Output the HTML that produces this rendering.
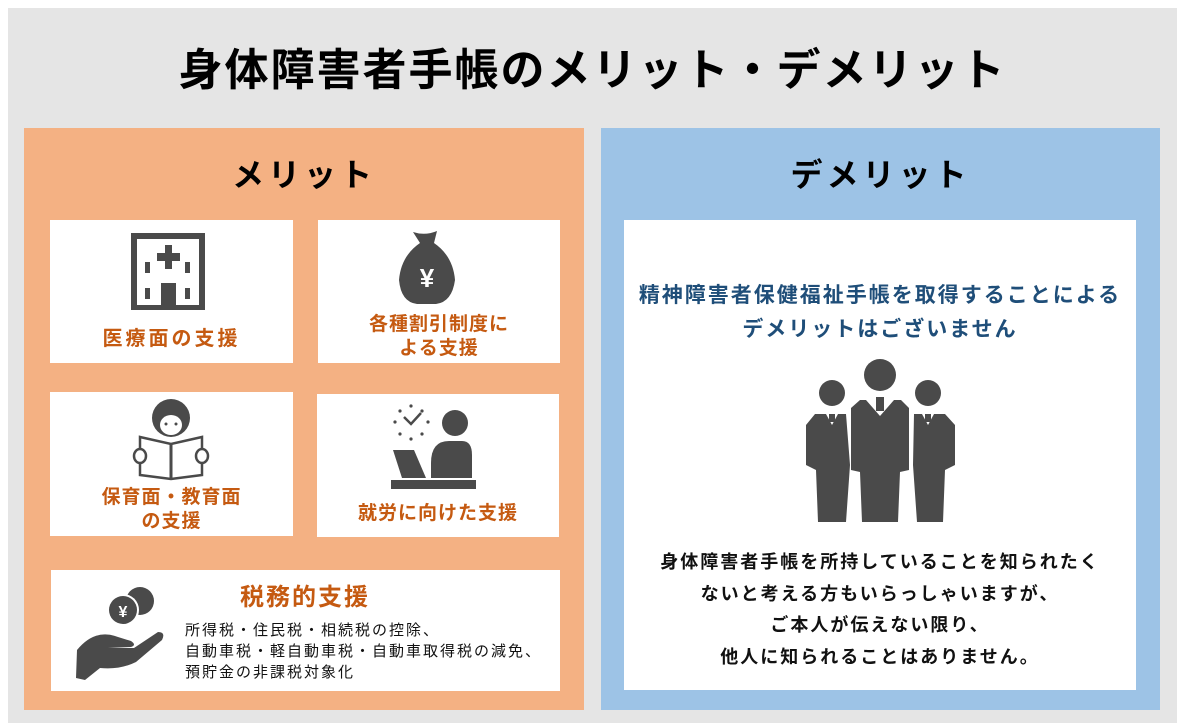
<!DOCTYPE html>
<html><head><meta charset="utf-8"><style>
*{margin:0;padding:0;box-sizing:border-box}
body{width:1181px;height:726px;background:#fff;position:relative;overflow:hidden;font-family:"Liberation Sans","Noto Sans CJK JP",sans-serif}
.a{position:absolute}
.bg{left:8px;top:8px;width:1169px;height:715px;background:#e5e5e5}
.title{left:8px;width:1169px;top:34px;text-align:center;font-size:44px;font-weight:bold;color:#000;letter-spacing:2px}
.or{left:24px;top:128px;width:560px;height:582px;background:#f4b183}
.bl{left:601px;top:128px;width:559px;height:582px;background:#9dc3e6}
.h{font-size:32px;font-weight:bold;color:#000;text-align:center;letter-spacing:4px}
.w{background:#fff}
.ot{color:#c55a11;font-weight:bold;font-size:19px;text-align:center;line-height:24px;letter-spacing:1px}
</style></head><body>
<div class="a bg"></div>
<div class="a title">身体障害者手帳のメリット・デメリット</div>
<div class="a or"></div>
<div class="a bl"></div>
<div class="a h" style="left:24px;width:560px;top:150px">メリット</div>
<div class="a h" style="left:601px;width:559px;top:150px">デメリット</div>

<div class="a w" style="left:50px;top:220px;width:243px;height:143px"></div>
<div class="a w" style="left:318px;top:220px;width:242px;height:143px"></div>
<div class="a w" style="left:50px;top:392px;width:243px;height:144px"></div>
<div class="a w" style="left:317px;top:394px;width:242px;height:143px"></div>
<div class="a w" style="left:51px;top:570px;width:509px;height:121px"></div>
<div class="a w" style="left:624px;top:220px;width:512px;height:470px"></div>

<svg class="a" style="left:0;top:0" width="1181" height="726" fill="#4a4a4a">
<rect x="131" y="233" width="74" height="77"/>
<rect x="137" y="239" width="62" height="66" fill="#fff"/>
<rect x="165" y="245" width="7" height="24"/><rect x="157" y="253" width="23" height="8"/>
<rect x="145" y="262" width="5" height="11"/><rect x="185" y="262" width="5" height="11"/>
<rect x="145" y="288" width="5" height="11"/><rect x="185" y="288" width="5" height="11"/>
<rect x="161" y="283" width="15" height="22"/>
<path d="M413 232 Q425 236 437 231 L434 243 Q453 256 455 280 Q452 302 436 304 L417 304 Q401 302 399 280 Q401 256 420 243 Z"/>
<text x="427" y="287" font-size="26" font-weight="bold" fill="#fff" text-anchor="middle" font-family="Liberation Sans">¥</text>
<circle cx="171" cy="418" r="19"/>
<ellipse cx="171" cy="425" rx="11" ry="10" fill="#fff"/>
<circle cx="166" cy="424" r="1.5"/><circle cx="176" cy="424" r="1.5"/>
<path d="M140 437 L171 444 L202 437 L202 475 L171 479 L140 475 Z" fill="#fff" stroke="#4a4a4a" stroke-width="2.5"/>
<line x1="171" y1="444" x2="171" y2="479" stroke="#4a4a4a" stroke-width="3"/>
<ellipse cx="140" cy="456" rx="6" ry="7" fill="#fff" stroke="#4a4a4a" stroke-width="2.5"/>
<ellipse cx="202" cy="456" rx="6" ry="7" fill="#fff" stroke="#4a4a4a" stroke-width="2.5"/>
<circle cx="455" cy="423" r="13"/>
<path d="M431 463 Q431 441 449 441 L462 441 Q472 441 472 455 L472 478 L431 478 Z"/>
<path d="M393 450 L414 450 L426 478 L402 478 Z"/>
<rect x="391" y="480" width="85" height="9"/>
<g fill="#4a4a4a"><circle cx="411" cy="406" r="1.6"/><circle cx="411" cy="439" r="1.6"/><circle cx="395" cy="422" r="1.6"/><circle cx="428" cy="422" r="1.6"/><circle cx="400" cy="411" r="1.6"/><circle cx="422" cy="411" r="1.6"/><circle cx="400" cy="434" r="1.6"/><circle cx="422" cy="434" r="1.6"/></g>
<path d="M404 417 L411 424 L421 413" fill="none" stroke="#4a4a4a" stroke-width="2.5"/>
<circle cx="140" cy="601" r="14"/>
<circle cx="123" cy="610" r="16" fill="#fff"/>
<circle cx="123" cy="610" r="14"/>
<text x="123" y="617" font-size="16" font-weight="bold" fill="#fff" text-anchor="middle" font-family="Liberation Sans">¥</text>
<path d="M76 678 L77 650 Q95 628 118 637 L131 641 Q137 645 131 647 L108 648 L134 648 L158 632 Q166 632 162 640 L136 662 Q120 670 100 668 L85 680 Z"/>
<circle cx="832" cy="393" r="13"/><circle cx="880" cy="375" r="16"/><circle cx="928" cy="393" r="13"/>
<path d="M815 414 L846 414 L850 465 L846 522 L818 522 L816 470 L806 465 L806 425 Z"/>
<path d="M914 414 L945 414 L955 425 L955 465 L945 470 L943 522 L917 522 L913 465 Z"/>
<path d="M860 400 L901 400 L909 408 L909 470 L900 472 L898 522 L862 522 L860 472 L851 470 L851 408 Z"/>
<path d="M826 414 L832 425 L838 414 Z" fill="#fff"/><path d="M922 414 L928 425 L934 414 Z" fill="#fff"/>
<path d="M866 400 L880 416 L894 400 Z" fill="#fff"/>
<rect x="829" y="414" width="6" height="8"/><rect x="925" y="414" width="6" height="8"/><rect x="876" y="397" width="8" height="14"/>
</svg>

<div class="a ot" style="left:50px;width:243px;top:327px;font-size:20px;letter-spacing:3px">医療面の支援</div>
<div class="a ot" style="left:318px;width:242px;top:313px">各種割引制度に<br>よる支援</div>
<div class="a ot" style="left:50px;width:243px;top:486px">保育面・教育面<br>の支援</div>
<div class="a ot" style="left:317px;width:242px;top:502px">就労に向けた支援</div>
<div class="a ot" style="left:190px;width:230px;top:584px;font-size:24px;line-height:28px;letter-spacing:2px">税務的支援</div>
<div class="a" style="left:185px;top:620px;font-size:15px;line-height:21px;color:#111;letter-spacing:2px">所得税・住民税・相続税の控除、<br>自動車税・軽自動車税・自動車取得税の減免、<br>預貯金の非課税対象化</div>

<div class="a" style="left:624px;width:512px;top:279px;text-align:center;font-size:21px;font-weight:bold;color:#1f4e79;line-height:34px;letter-spacing:2px">精神障害者保健福祉手帳を取得することによる<br>デメリットはございません</div>
<div class="a" style="left:624px;width:512px;top:547px;text-align:center;font-size:18px;font-weight:bold;color:#111;line-height:31.5px;letter-spacing:2px">身体障害者手帳を所持していることを知られたく<br>ないと考える方もいらっしゃいますが、<br>ご本人が伝えない限り、<br>他人に知られることはありません。</div>
</body></html>
